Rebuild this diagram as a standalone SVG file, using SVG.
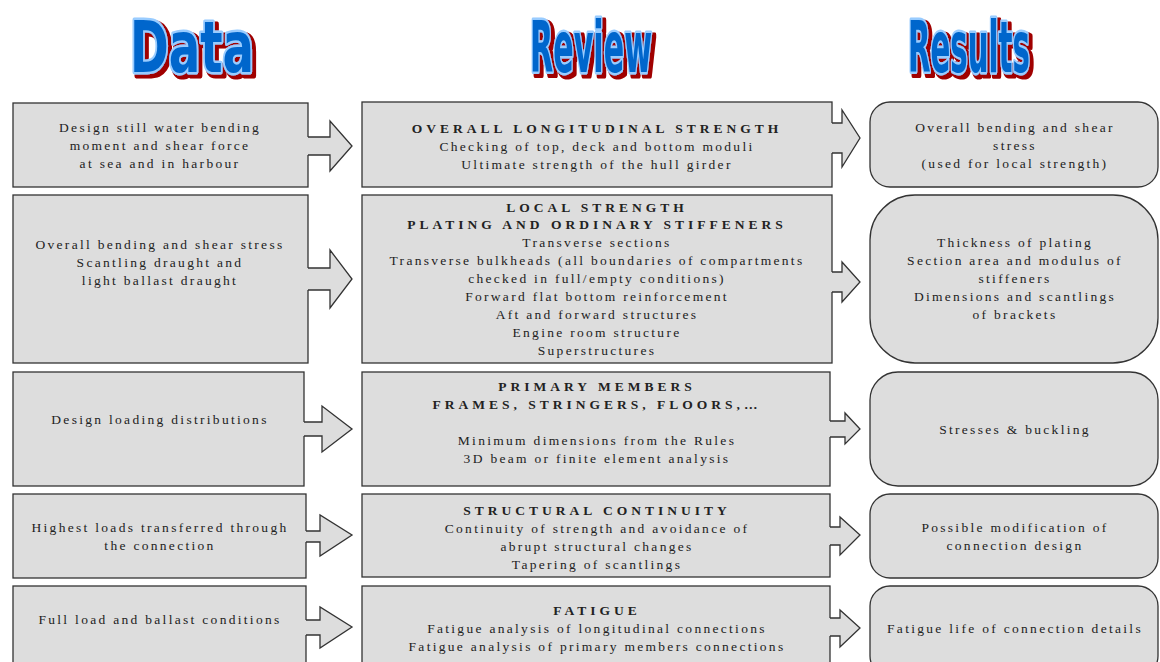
<svg xmlns="http://www.w3.org/2000/svg" width="1160" height="662" viewBox="0 0 1160 662">
<defs>
<filter id="shadow" filterUnits="userSpaceOnUse" x="-50" y="-70" width="400" height="100">
<feMorphology in="SourceAlpha" operator="dilate" radius="0.8" result="d"/>
<feOffset in="d" dx="3" dy="2.1" result="o"/>
<feFlood flood-color="#a00000"/>
<feComposite in2="o" operator="in" result="s"/>
<feMerge><feMergeNode in="s"/><feMergeNode in="SourceGraphic"/></feMerge>
</filter>
</defs>
<style>
.box{fill:#dddddd;stroke:#333333;stroke-width:1.3}
.t{font-family:"Liberation Serif","Times New Roman",serif;font-size:13.5px;fill:#222222;text-anchor:middle;letter-spacing:2.3px}
.b{font-weight:bold;letter-spacing:4px}
.hd{font-family:"Liberation Sans Narrow","DejaVu Sans Condensed","Liberation Sans",sans-serif;font-weight:bold;font-size:50px;fill:#0066cc;stroke:#99ccff;stroke-width:3.4;paint-order:stroke;stroke-linejoin:round}
.af{fill:#dddddd;stroke:none}
.al{fill:none;stroke:#333333;stroke-width:1.3;stroke-linejoin:miter}
</style>
<rect width="1160" height="662" fill="#ffffff"/>
<g id="headers">
<text class="hd" filter="url(#shadow)" transform="translate(130,72) scale(1,1.44)" x="0" y="0" textLength="124" lengthAdjust="spacingAndGlyphs">Data</text>
<text class="hd" filter="url(#shadow)" transform="translate(530,72) scale(1,1.44)" x="0" y="0" textLength="122" lengthAdjust="spacingAndGlyphs">Review</text>
<text class="hd" filter="url(#shadow)" transform="translate(908,72) scale(1,1.44)" x="0" y="0" textLength="122" lengthAdjust="spacingAndGlyphs">Results</text>
</g>
<!-- Row 1 -->
<g id="data1"><rect class="box" x="13" y="103" width="295" height="84"/>
<text class="t" x="160" y="132">Design still water bending</text>
<text class="t" x="160" y="150">moment and shear force</text>
<text class="t" x="160" y="168">at sea and in harbour</text></g>
<g id="review1"><rect class="box" x="362" y="102" width="470" height="85"/>
<text class="t b" x="597" y="133">OVERALL LONGITUDINAL STRENGTH</text>
<text class="t" x="597" y="151">Checking of top, deck and bottom moduli</text>
<text class="t" x="597" y="169">Ultimate strength of the hull girder</text></g>
<g id="result1"><rect class="box" x="870" y="102" width="288" height="85" rx="20" ry="20"/>
<text class="t" x="1015" y="132">Overall bending and shear</text>
<text class="t" x="1015" y="150">stress</text>
<text class="t" x="1015" y="168">(used for local strength)</text></g>
<!-- Row 2 -->
<g id="data2"><rect class="box" x="13" y="195" width="295" height="168"/>
<text class="t" x="160" y="249">Overall bending and shear stress</text>
<text class="t" x="160" y="267">Scantling draught and</text>
<text class="t" x="160" y="285">light ballast draught</text></g>
<g id="review2"><rect class="box" x="362" y="195" width="470" height="168"/>
<text class="t b" x="597" y="212">LOCAL STRENGTH</text>
<text class="t b" x="597" y="229">PLATING AND ORDINARY STIFFENERS</text>
<text class="t" x="597" y="247">Transverse sections</text>
<text class="t" x="597" y="265">Transverse bulkheads  (all boundaries of compartments</text>
<text class="t" x="597" y="283">checked in full/empty conditions)</text>
<text class="t" x="597" y="301">Forward flat bottom reinforcement</text>
<text class="t" x="597" y="319">Aft and forward structures</text>
<text class="t" x="597" y="337">Engine room structure</text>
<text class="t" x="597" y="355">Superstructures</text></g>
<g id="result2"><rect class="box" x="870" y="195" width="288" height="168" rx="45" ry="45"/>
<text class="t" x="1015" y="247">Thickness of plating</text>
<text class="t" x="1015" y="265">Section area and modulus of</text>
<text class="t" x="1015" y="283">stiffeners</text>
<text class="t" x="1015" y="301">Dimensions and scantlings</text>
<text class="t" x="1015" y="319">of brackets</text></g>
<!-- Row 3 -->
<g id="data3"><rect class="box" x="13" y="372" width="291" height="114"/>
<text class="t" x="160" y="424">Design loading distributions</text></g>
<g id="review3"><rect class="box" x="362" y="372" width="468" height="114"/>
<text class="t b" x="597" y="391">PRIMARY MEMBERS</text>
<text class="t b" x="597" y="409">FRAMES, STRINGERS, FLOORS,…</text>
<text class="t" x="597" y="445">Minimum dimensions from the Rules</text>
<text class="t" x="597" y="463">3D beam or finite element analysis</text></g>
<g id="result3"><rect class="box" x="870" y="372" width="288" height="114" rx="28" ry="28"/>
<text class="t" x="1015" y="434">Stresses &amp; buckling</text></g>
<!-- Row 4 -->
<g id="data4"><rect class="box" x="13" y="494" width="293" height="84"/>
<text class="t" x="160" y="532">Highest loads transferred through</text>
<text class="t" x="160" y="550">the connection</text></g>
<g id="review4"><rect class="box" x="362" y="494" width="468" height="83"/>
<text class="t b" x="597" y="515">STRUCTURAL CONTINUITY</text>
<text class="t" x="597" y="533">Continuity of strength and avoidance of</text>
<text class="t" x="597" y="551">abrupt structural changes</text>
<text class="t" x="597" y="569">Tapering of scantlings</text></g>
<g id="result4"><rect class="box" x="870" y="494" width="288" height="84" rx="20" ry="20"/>
<text class="t" x="1015" y="532">Possible  modification of</text>
<text class="t" x="1015" y="550">connection design</text></g>
<!-- Row 5 -->
<g id="data5"><rect class="box" x="13" y="586" width="293" height="90"/>
<text class="t" x="160" y="624">Full load and ballast conditions</text></g>
<g id="review5"><rect class="box" x="362" y="586" width="468" height="90"/>
<text class="t b" x="597" y="615">FATIGUE</text>
<text class="t" x="597" y="633">Fatigue analysis of longitudinal connections</text>
<text class="t" x="597" y="651">Fatigue analysis of primary members connections</text></g>
<g id="result5"><rect class="box" x="870" y="586" width="288" height="90" rx="20" ry="20"/>
<text class="t" x="1015" y="633">Fatigue life of connection details</text></g>
<g id="connectors">
<polygon class="af" points="306,137 330,137 330,121 352,146 330,171 330,155 306,155"/>
<polyline class="al" points="308,137 330,137 330,121 352,146 330,171 330,155 308,155"/>
<polygon class="af" points="830,123 842,123 842,110 860,138 842,167 842,153 830,153"/>
<polyline class="al" points="832,123 842,123 842,110 860,138 842,167 842,153 832,153"/>
<polygon class="af" points="306,268 330,268 330,250 352,279 330,308 330,290 306,290"/>
<polyline class="al" points="308,268 330,268 330,250 352,279 330,308 330,290 308,290"/>
<polygon class="af" points="830,272 842,272 842,262 860,282 842,302 842,292 830,292"/>
<polyline class="al" points="832,272 842,272 842,262 860,282 842,302 842,292 832,292"/>
<polygon class="af" points="302,422 322,422 322,406 352,429 322,452 322,436 302,436"/>
<polyline class="al" points="304,422 322,422 322,406 352,429 322,452 322,436 304,436"/>
<polygon class="af" points="828,421 845,421 845,413 860,429 845,444 845,437 828,437"/>
<polyline class="al" points="830,421 845,421 845,413 860,429 845,444 845,437 830,437"/>
<polygon class="af" points="304,531 320,531 320,515 352,535 320,556 320,542 304,542"/>
<polyline class="al" points="306,531 320,531 320,515 352,535 320,556 320,542 306,542"/>
<polygon class="af" points="828,527 840,527 840,517 860,535 840,555 840,545 828,545"/>
<polyline class="al" points="830,527 840,527 840,517 860,535 840,555 840,545 830,545"/>
<polygon class="af" points="304,620 320,620 320,607 352,627 320,648 320,635 304,635"/>
<polyline class="al" points="306,620 320,620 320,607 352,627 320,648 320,635 306,635"/>
<polygon class="af" points="828,618 840,618 840,610 860,628 840,647 840,636 828,636"/>
<polyline class="al" points="830,618 840,618 840,610 860,628 840,647 840,636 830,636"/>
</g>
</svg>
